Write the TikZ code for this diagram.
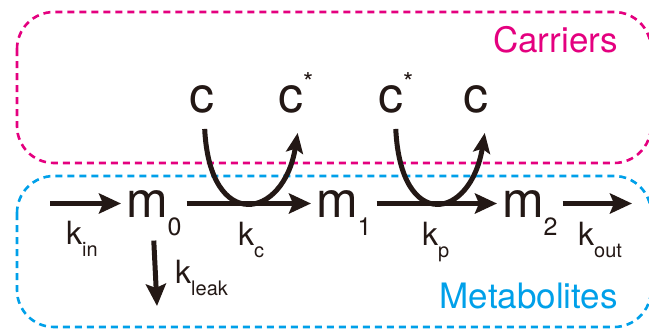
\documentclass[tikz,border=0pt]{standalone}
\usepackage{fontspec}
\setmainfont{TeX Gyre Heros}
\usetikzlibrary{arrows.meta,calc}
\definecolor{carrier}{HTML}{E4007F}
\definecolor{metab}{HTML}{00A0E9}
\definecolor{ink}{HTML}{231815}
\newcommand{\bigsz}{\fontsize{50}{50}\selectfont}
\newcommand{\ksz}{\fontsize{32}{32}\selectfont}
\newcommand{\subm}[1]{\raisebox{-18pt}{\fontsize{25}{25}\selectfont #1}}
\newcommand{\subk}[1]{\raisebox{-12pt}{\fontsize{20}{20}\selectfont #1}}
\newcommand{\cstar}{c\raisebox{21pt}{\fontsize{26}{26}\selectfont *}}
\begin{document}
\begin{tikzpicture}[x=1pt,y=-1pt,
  groupbox/.style={dashed,line width=2.6pt,dash pattern=on 7pt off 5pt,rounded corners=37pt},
  grouplabel/.style={font=\fontsize{35}{35}\selectfont,anchor=base east,inner sep=0pt},
  species/.style={font=\bigsz,text=ink,anchor=base west,inner ysep=0pt,inner xsep=2pt,outer xsep=3pt},
  carrier/.style={font=\bigsz,text=ink,anchor=base west,inner sep=0pt},
  rate/.style={font=\ksz,text=ink,anchor=base west,inner sep=0pt},
  flow/.style={draw=ink,line width=5pt,-{Stealth[length=22pt,width=20pt,inset=4pt]}},
  swap/.style={draw=ink,line width=5pt,-{Stealth[length=20pt,width=17pt,inset=4pt]}}
]
\useasboundingbox (0,0) rectangle (649,330);
% group boxes
\draw[groupbox,draw=carrier] (17,12) rectangle (651,163);
\draw[groupbox,draw=metab] (17,176) rectangle (651,327);
\node[grouplabel,text=carrier] (carriers) at (618,52) {Carriers};
\node[grouplabel,text=metab] (metabolites) at (618,308) {Metabolites};
% carriers
\node[carrier] (c1) at (189,112) {c};
\node[carrier] (cs1) at (278,112) {\cstar};
\node[carrier] (cs2) at (378,112) {\cstar};
\node[carrier] (c2) at (463,112) {c};
% metabolites
\node[species] (m0) at (121,217) {m\subm{0}};
\node[species] (m1) at (311,217) {m\subm{1}};
\node[species] (m2) at (497,217) {m\subm{2}};
\coordinate (in) at (50,203.5);
\coordinate (out) at (632,203.5);
\coordinate (leak) at (157,306);
% flows
\draw[flow] (in) -- (m0.west |- in);
\draw[flow] (m0.east |- in) -- (m1.west |- in);
\draw[flow] (m1.east |- in) -- (m2.west |- in);
\draw[flow] (m2.east |- in) -- (out);
\draw[flow] ([yshift=-5pt]m0.south) -- (leak);
% carrier conversions
\draw[swap] ($(c1.south)+(3,16)$) .. controls +(5,104) and +(-14,87) .. ($(c1.south)+(96,20)$);
\draw[swap] ($(cs2.south)+(0,16)$) .. controls +(5,104) and +(-14,87) .. ($(cs2.south)+(89,20)$);
% rate labels
\node[rate] (kin) at (66,244) {k\subk{in}};
\node[rate] (kc) at (238,245) {k\subk{c}};
\node[rate] (kp) at (422,245) {k\subk{p}};
\node[rate] (kout) at (578,245) {k\subk{out}};
\node[rate] (kleak) at (175,283) {k\subk{leak}};
\end{tikzpicture}
\end{document}
